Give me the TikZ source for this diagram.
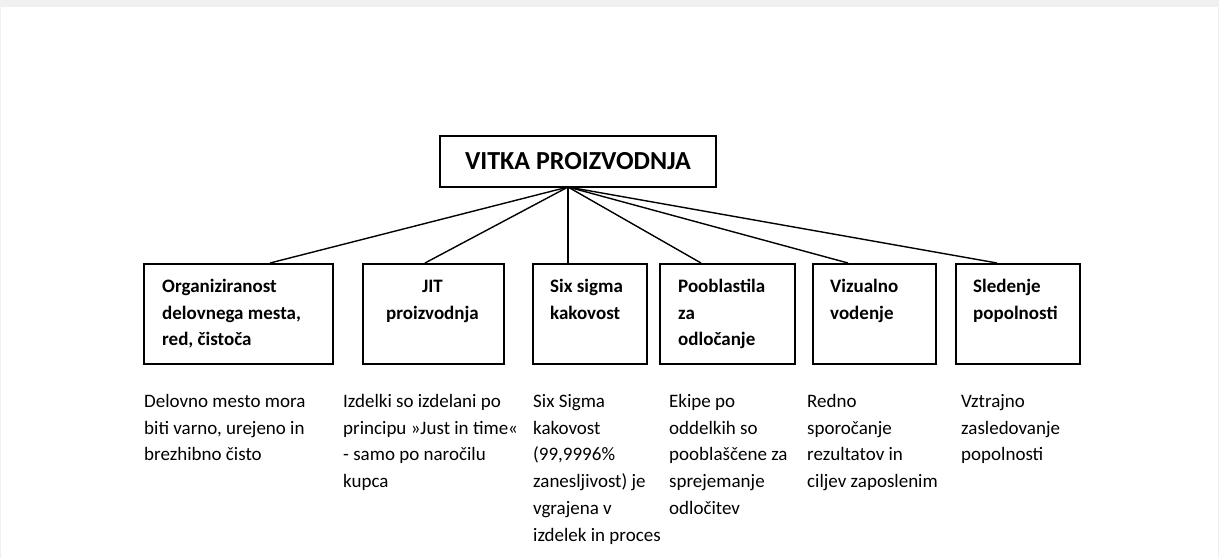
\documentclass[tikz,border=0pt]{standalone}
\usepackage{fontspec}
\setmainfont{Carlito}
\definecolor{pagegray}{HTML}{F0F0F0}
\begin{document}
\begin{tikzpicture}[x=1pt,y=-1pt,
  box/.style={draw=black, line width=1.5pt, minimum height=100pt, inner sep=0pt, anchor=north west},
  conn/.style={draw=black, line width=1.4pt},
  head/.style={anchor=north west, inner sep=0pt, align=left, font=\fontsize{19}{26.8}\selectfont\bfseries},
  desc/.style={anchor=north west, inner sep=0pt, align=left, font=\fontsize{19}{26.8}\selectfont},
]
\useasboundingbox (0,0) rectangle (1219,558);
\fill[pagegray] (0,0) rectangle (1219,558);
\fill[white] (1,7) rectangle (1218,558);

% root
\node[draw=black, line width=1.5pt, minimum width=276pt, minimum height=51pt, inner sep=0pt, font=\fontsize{26}{30}\selectfont\bfseries] (root) at (578,161.5) {VITKA PROIZVODNJA};
\coordinate (hub) at (568,187);

% boxes
\node[box, minimum width=189pt] (b1) at (143,263) {};
\node[box, minimum width=141pt] (b2) at (362,263) {};
\node[box, minimum width=114pt] (b3) at (532,263) {};
\node[box, minimum width=135pt] (b4) at (659,263) {};
\node[box, minimum width=123pt] (b5) at (812,263) {};
\node[box, minimum width=124pt] (b6) at (955,263) {};

% connectors
\draw[conn] (hub) -- ([xshift=127pt]b1.north west);
\draw[conn] (hub) -- ([xshift=63pt]b2.north west);
\draw[conn] (hub) -- ([xshift=36pt]b3.north west);
\draw[conn] (hub) -- ([xshift=42pt]b4.north west);
\draw[conn] (hub) -- ([xshift=36pt]b5.north west);
\draw[conn] (hub) -- ([xshift=42pt]b6.north west);

% box headings
\node[head] (h1) at (162,276) {\rule{0pt}{16pt}Organiziranost\\delovnega mesta,\\red, čistoča};
\node[head, align=center, anchor=north] (h2) at (432.5,276) {\rule{0pt}{16pt}JIT\\proizvodnja};
\node[head] (h3) at (550,276) {\rule{0pt}{16pt}Six sigma\\kakovost};
\node[head] (h4) at (678,276) {\rule{0pt}{16pt}Pooblastila\\za\\odločanje};
\node[head] (h5) at (830,276) {\rule{0pt}{16pt}Vizualno\\vodenje};
\node[head] (h6) at (973,276) {\rule{0pt}{16pt}Sledenje\\popolnosti};

% descriptions
\node[desc] (d1) at (144,391) {\rule{0pt}{16pt}Delovno mesto mora\\biti varno, urejeno in\\brezhibno čisto};
\node[desc] (d2) at (343,391) {\rule{0pt}{16pt}Izdelki so izdelani po\\principu »Just in time«\\- samo po naročilu\\kupca};
\node[desc] (d3) at (533,391) {\rule{0pt}{16pt}Six Sigma\\kakovost\\(99,9996\%\\zanesljivost) je\\vgrajena v\\izdelek in proces};
\node[desc] (d4) at (669,391) {\rule{0pt}{16pt}Ekipe po\\oddelkih so\\pooblaščene za\\sprejemanje\\odločitev};
\node[desc] (d5) at (807,391) {\rule{0pt}{16pt}Redno\\sporočanje\\rezultatov in\\ciljev zaposlenim};
\node[desc] (d6) at (961,391) {\rule{0pt}{16pt}Vztrajno\\zasledovanje\\popolnosti};
\end{tikzpicture}
\end{document}
